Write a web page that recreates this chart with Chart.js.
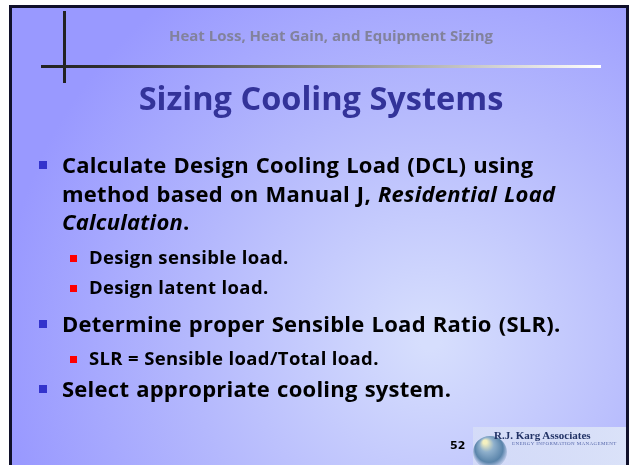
<!DOCTYPE html>
<html>
<head>
<meta charset="utf-8">
<script src="https://cdn.jsdelivr.net/npm/chart.js@4.4.1/dist/chart.umd.min.js"></script>
<style>
  html, body { margin: 0; padding: 0; background: #fff; }
  #slide { position: relative; width: 634px; height: 465px; overflow: hidden; font-family: "Open Sans", sans-serif; }
  #bg { position: absolute; left: 0; top: 0; }
  .txt { position: absolute; white-space: nowrap; }
  .header { left: 0; width: 662px; text-align: center; font-size: 15px; font-weight: 700; color: #82829c; }
  .title { left: 0; width: 642px; text-align: center; font-size: 32.5px; font-weight: 700; color: #333399; }
  .l1 { left: 62px; font-size: 22px; font-weight: 700; letter-spacing: 0.25px; word-spacing: 1px; color: #000; }
  .l2 { left: 89px; font-size: 18.5px; font-weight: 700; letter-spacing: 0.35px; color: #000; }
  .sq1 { position: absolute; left: 39px; width: 8px; height: 8px; background: #3333cc; }
  .sq2 { position: absolute; left: 70px; width: 7px; height: 7px; background: #ff0000; }
  .pageno { left: 450px; font-size: 11px; font-weight: 800; font-family: "DejaVu Sans", sans-serif; }
  .logo1 { left: 494px; font-family: "Liberation Serif", serif; font-size: 11px; font-weight: 700; color: #223366; }
  .logo2 { left: 512px; font-family: "Liberation Serif", serif; font-size: 5px; color: #5566aa; letter-spacing: 0.4px; }
</style>
</head>
<body>
<div id="slide">
  <canvas id="bg" width="634" height="465"></canvas>
  <div id="texts"></div>
</div>
<script>
(function() {
  const headerText = 'Heat Loss, Heat Gain, and Equipment Sizing';
  const titleText = 'Sizing Cooling Systems';
  // slide lines with indent level, bullet flag and vertical centre
  const lineTexts = [
    'Calculate Design Cooling Load (DCL) using',
    'method based on Manual J, <i>Residential Load</i>',
    '<i>Calculation</i>.',
    'Design sensible load.',
    'Design latent load.',
    'Determine proper Sensible Load Ratio (SLR).',
    'SLR = Sensible load/Total load.',
    'Select appropriate cooling system.'
  ];
  const lineLevels = [1, 1, 1, 2, 2, 1, 2, 1];
  const lineBullets = [true, false, false, true, true, true, true, true];
  const lineCentres = [164, 193, 221, 257, 287, 323, 358, 388];
  const pageNumber = '52';
  const logoTexts = ['R.J. Karg Associates', 'ENERGY INFORMATION MANAGEMENT'];

  const textsDiv = document.getElementById('texts');

  function addText(cls, html, centreY, lineH) {
    const d = document.createElement('div');
    d.className = 'txt ' + cls;
    d.style.top = (centreY - lineH / 2) + 'px';
    d.style.lineHeight = lineH + 'px';
    d.innerHTML = html;
    textsDiv.appendChild(d);
    return d;
  }

  addText('header', headerText, 35, 20);
  addText('title', titleText, 98, 42);

  lineTexts.forEach((t, i) => {
    const lvl = lineLevels[i];
    addText('l' + lvl, t, lineCentres[i], 30);
    if (lineBullets[i]) {
      const sq = document.createElement('div');
      sq.className = 'sq' + lvl;
      const size = lvl === 1 ? 8 : 7;
      sq.style.top = (lineCentres[i] - size / 2 + 1) + 'px';
      textsDiv.appendChild(sq);
    }
  });

  addText('pageno', pageNumber, 446, 14);
  addText('logo1', logoTexts[0], 435, 12);
  addText('logo2', logoTexts[1], 444, 6);

  // slide background, frame, cross lines and logo globe on the chart canvas
  const slidePlugin = {
    id: 'slideBackground',
    beforeDraw(chart) {
      const c = chart.ctx;
      c.save();
      c.fillStyle = '#ffffff';
      c.fillRect(0, 0, 634, 465);

      const g = c.createRadialGradient(430, 340, 10, 430, 340, 430);
      g.addColorStop(0, '#d6defd');
      g.addColorStop(0.55, '#b4b8fd');
      g.addColorStop(1, '#9999ff');
      c.fillStyle = g;
      c.fillRect(11, 7, 616, 470);

      c.strokeStyle = '#10102a';
      c.lineWidth = 3;
      c.strokeRect(10.5, 6.5, 617, 470);

      // cross lines
      c.fillStyle = '#222222';
      c.fillRect(63, 11, 3, 72);
      const lg = c.createLinearGradient(41, 0, 601, 0);
      lg.addColorStop(0, '#222222');
      lg.addColorStop(0.15, '#333333');
      lg.addColorStop(1, '#ffffff');
      c.fillStyle = lg;
      c.fillRect(41, 65, 560, 3);

      // logo box
      const bg2 = c.createLinearGradient(473, 0, 625, 0);
      bg2.addColorStop(0, 'rgba(220,228,245,0.6)');
      bg2.addColorStop(1, 'rgba(222,230,248,0.9)');
      c.fillStyle = bg2;
      c.fillRect(473, 427, 153, 40);

      // globe
      const gg = c.createRadialGradient(485, 442, 2, 490, 450, 17);
      gg.addColorStop(0, '#f4f0c0');
      gg.addColorStop(0.35, '#8fb0cc');
      gg.addColorStop(0.8, '#5a84aa');
      gg.addColorStop(1, 'rgba(90,130,170,0.3)');
      c.fillStyle = gg;
      c.beginPath();
      c.ellipse(490, 452, 17, 16, 0, 0, Math.PI * 2);
      c.fill();
      c.restore();
    }
  };

  new Chart(document.getElementById('bg').getContext('2d'), {
    type: 'scatter',
    data: { datasets: [] },
    options: {
      responsive: false,
      animation: false,
      events: [],
      plugins: { legend: { display: false }, tooltip: { enabled: false } },
      scales: { x: { display: false }, y: { display: false } }
    },
    plugins: [slidePlugin]
  });
})();
</script>
</body>
</html>
